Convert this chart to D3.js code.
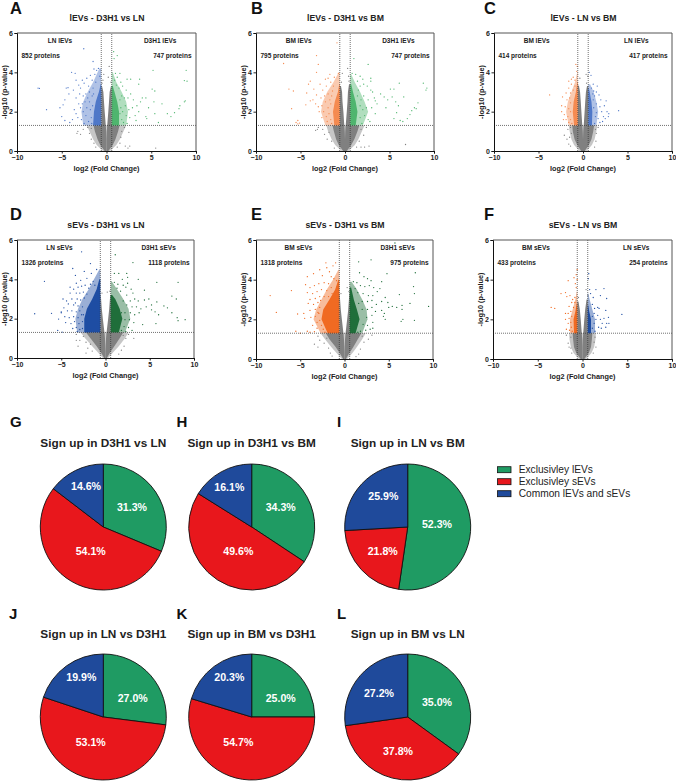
<!DOCTYPE html>
<html>
<head>
<meta charset="utf-8">
<script src="https://cdn.jsdelivr.net/npm/d3@7"></script>
<style>
html, body { margin:0; padding:0; background:#fff; }
text { font-family:"Liberation Sans", Arial, sans-serif; }
</style>
</head>
<body>
<div id="chart-area"></div>
<script>
//============================DATA============================
// Dense cores are envelopes: [p, outer x, inner x]. Halos are the thinner fringe round them.
// Sparse points are [x, p] estimates.
var xTicks = [-10, -5, 0, 5, 10];
var yTicks = [0, 2, 4, 6];

// panel A
var aGreyL = [[0,-0.2,0],[0.3,-0.7,0],[0.6,-1,0],[1,-1.3,-0.03],[1.3,-1.45,-0.08],[1.3,-0.585,-0.08],[2,-0.585,-0.2],[2.5,-0.585,-0.28],[3,-0.585,-0.35],[3.3,-0.585,-0.5]];
var aGreyR = [[0,0.2,0],[0.3,0.7,0],[0.6,1,0],[1,1.3,0.03],[1.3,1.45,0.08],[1.3,0.585,0.08],[2,0.585,0.2],[2.5,0.585,0.28],[3,0.585,0.35],[3.3,0.585,0.5]];
var aWingL = [[1.3,-1.5,-0.585],[2,-1.4,-0.585],[2.5,-1.2,-0.585],[3,-0.85,-0.585],[3.4,-0.65,-0.585]];
var aWingR = [[1.3,1.4,0.585],[2,1.4,0.585],[2.5,1.2,0.585],[3,0.9,0.585],[3.3,0.7,0.585]];
var aHaloL = [[1.3,-2.6,-0.585],[2,-2.8,-0.585],[2.5,-2.6,-0.585],[3,-2.1,-0.585],[3.5,-1.5,-0.585],[4.2,-0.8,-0.585]];
var aHaloR = [[1.3,2.2,0.585],[2,2.4,0.585],[2.5,2.2,0.585],[3,1.7,0.585],[3.5,1.1,0.585],[4,0.7,0.585]];
var aHaloGL = [[0,-0.4,0],[0.3,-1.1,0],[0.6,-1.5,0],[1,-1.9,0],[1.3,-2.2,0]];
var aHaloGR = [[0,0.4,0],[0.3,1.1,0],[0.6,1.5,0],[1,1.9,0],[1.3,2.2,0]];
var aPtsL = [[-2.54,5.2],[-1.5,4.55],[-1.4,4.17],[-3.9,4],[-3.5,3.95],[-7.65,3.2],[-7.5,3.18],[-6.7,2.1],[-5.2,2.2],[-4.85,2.35],[-4.65,2.6],[-4.5,3.2],[-4.3,3.22],[-5,1.75],[-4.65,1.55],[-4.1,1.45],[-3.4,3.6],[-3.1,3.35],[-2.9,3.2],[-2.7,3.6],[-2.5,3.45],[-2.2,3.7],[-2,3.3],[-1.8,3.85],[-1.6,3.6],[-1.3,3.9],[-1.1,4.1],[-0.9,4.2],[-0.75,3.8],[-1.2,3.5],[-1.5,3.2],[-1.9,3],[-2.3,2.9],[-2.6,2.8],[-3,2.9],[-3.4,2.7],[-3.1,2.4],[-3.6,2.1],[-3.4,1.9],[-3.2,1.7],[-2.9,2.2],[-2.7,2.4],[-2.4,2.5],[-2.2,2.2],[-2.6,2],[-2.3,1.8],[-2.8,1.6],[-2.1,2.7],[-1.9,2.5],[-1.8,2.1],[-1.7,1.7],[-2,1.5],[-1.6,2.8],[-1.45,2.9],[-1.55,2.3],[-1.65,1.4],[-4.2,2.9],[-3.7,3.1],[-3.8,1.6],[-2.5,1.4]];
var aPtsR = [[0.8,5.05],[1.2,4.85],[0.85,4.7],[1,3.95],[1.5,3.95],[1.2,3.75],[0.9,3.6],[2.3,3.65],[2.7,3.65],[3.7,3.65],[3.6,3.4],[5.2,4.1],[8.9,4.1],[8.7,3.58],[9,3.55],[5.1,3.15],[5.4,3.05],[4,2.7],[4.4,2.7],[3.8,2.5],[3.4,2.3],[3,2.6],[2.7,2.9],[2.2,3.1],[1.8,3.3],[1.6,3.5],[1.4,3.2],[1.1,3.35],[2.4,2.7],[2,2.7],[1.7,2.8],[1.5,2.6],[2.9,2.2],[2.5,2.1],[2.1,2.3],[1.8,2],[2.2,1.8],[1.7,1.6],[1.5,1.9],[2.6,1.7],[3.2,1.8],[3.3,1.55],[4.4,1.75],[4.5,1.65],[5.4,1.9],[5.8,1.45],[6.8,1.9],[7.2,1.75],[7.6,1.95],[8.1,2.15],[8.2,2.3],[8.7,2.5],[8.8,2.55],[6.2,2.4],[5.3,2.5],[1.9,1.45],[2.3,1.4],[1.6,2.2],[3.6,2],[4.7,2.2]];
var aPtsG = [[0.3,4.3],[-0.3,3.9],[0.2,3.75],[-0.4,3.6],[0.5,3.5],[-0.5,3.45],[-2.1,1.2],[-3.2,1],[-3.3,0.9],[-2.6,1.1],[-1.9,0.9],[-1.7,0.6],[2,1.2],[1.7,1],[1.6,0.7],[1.5,0.4],[-1.4,0.4],[-1.2,0.2],[2.1,0.25],[2.6,0.25],[2.4,0.15],[5.5,0.15],[1.2,0.2],[-2.9,0.85],[2.5,0.95],[-1.7,1.15]];

// panel B
var bGreyL = [[0,-0.2,0],[0.3,-0.7,0],[0.6,-1,0],[1,-1.25,-0.03],[1.3,-1.4,-0.08],[1.3,-0.585,-0.08],[2,-0.585,-0.18],[2.5,-0.585,-0.28],[3,-0.585,-0.33],[3.3,-0.585,-0.45]];
var bGreyR = [[0,0.2,0],[0.3,0.7,0],[0.6,1.05,0],[1,1.4,0.03],[1.3,1.6,0.08],[1.3,0.585,0.08],[2,0.585,0.2],[2.5,0.585,0.28],[3,0.585,0.33],[3.4,0.585,0.45]];
var bWingL = [[1.3,-1.2,-0.585],[2,-1.35,-0.585],[2.5,-1.15,-0.585],[3,-0.8,-0.585],[3.4,-0.65,-0.585]];
var bWingR = [[1.3,1.2,0.585],[2,1.4,0.585],[2.5,1.2,0.585],[3,0.9,0.585],[3.4,0.7,0.585]];
var bHaloL = [[1.3,-2.2,-0.585],[2,-2.7,-0.585],[2.5,-2.5,-0.585],[3,-2,-0.585],[3.5,-1.3,-0.585],[4,-0.7,-0.585]];
var bHaloR = [[1.3,2,0.585],[2,2.6,0.585],[2.5,2.2,0.585],[3,1.7,0.585],[3.5,1.1,0.585],[3.9,0.7,0.585]];
var bHaloGL = [[0,-0.4,0],[0.3,-1.1,0],[0.6,-1.5,0],[1,-1.9,0],[1.3,-2.1,0]];
var bHaloGR = [[0,0.4,0],[0.3,1.1,0],[0.6,1.5,0],[1,1.9,0],[1.3,2.2,0]];
var bPtsL = [[-0.9,5.5],[-3.2,4.85],[-6.9,4.45],[-3,4.4],[-3.2,4],[-1.7,3.9],[-0.75,3.95],[-1.2,3.75],[-1.9,3.7],[-2.2,3.65],[-3.9,3.55],[-4.1,3.4],[-6.3,3.15],[-5.8,3.05],[-4.3,2.95],[-3.5,3.15],[-2.8,3.4],[-2.5,3.1],[-2.1,3.3],[-1.6,3.5],[-1.3,3.3],[-3.2,2.85],[-2.7,2.7],[-2.3,2.8],[-1.9,2.9],[-1.5,2.8],[-3.6,2.6],[-3.9,2.55],[-3.3,2.4],[-3,2.25],[-2.6,2.3],[-2.2,2.5],[-1.9,2.2],[-1.6,2.4],[-6,2.15],[-2.4,2],[-2.1,1.75],[-1.8,1.9],[-1.6,1.6],[-2,1.5],[-1.5,1.4],[-5.3,1.55],[-5.5,1.45],[-5.1,1.42],[-5.3,1.38],[-2.6,1.7],[-1.4,3.05],[-1.7,2.6],[-2.9,2],[-4.4,2.35]];
var bPtsR = [[1,4.7],[2.6,4.4],[0.8,3.95],[1.2,3.9],[1.7,3.8],[2,3.65],[2.9,3.7],[2.9,3.55],[1.4,3.55],[1.7,3.3],[2.1,3.4],[2.5,3.3],[2.9,3.1],[6.1,3.45],[8.8,3.45],[9.2,3.2],[9.1,3.1],[5.1,3.15],[5.5,3.15],[3.1,3],[3.3,2.7],[3.4,2.55],[3.6,2.4],[4,2.9],[4.4,2.75],[4.8,2.6],[5.3,2.75],[5.7,2.5],[6,2.3],[4.6,2.2],[3,2.2],[2.6,2.6],[2.1,2.8],[1.8,2.6],[2.4,2.2],[2,2.1],[1.7,2.3],[2.2,1.8],[1.7,1.7],[2.6,1.6],[1.9,1.4],[1.5,3.1],[5.5,1.65],[6.2,1.55],[6.5,1.5],[7,1.65],[7.3,1.85],[7.5,2.05],[7.8,2.2],[8,2.15],[8.2,2.45],[5.8,1.95],[6.6,2.75],[2.8,1.5],[1.4,2.8],[3.4,1.9]];
var bPtsG = [[0.3,4.2],[-0.3,3.95],[0.4,3.8],[-0.4,3.5],[0.45,3.55],[6.8,0.33],[2.7,0.25],[2.2,0.2],[1.8,0.2],[1.6,0.5],[2.1,0.8],[-2,0.6],[-2.3,0.85],[-1.8,0.95],[-3.1,1.1],[-3.3,1.05],[-2.5,1.1],[-3,1.2],[-1.5,0.5],[1.8,1.1],[2.4,1.2],[-1.2,0.15],[1.3,0.2]];

// panel C
var cGreyL = [[0,-0.2,0],[0.3,-0.65,0],[0.6,-0.95,0],[1,-1.15,-0.03],[1.3,-1.2,-0.08],[1.3,-0.585,-0.08],[2,-0.585,-0.18],[2.5,-0.585,-0.25],[3,-0.585,-0.33],[3.3,-0.585,-0.45]];
var cGreyR = [[0,0.2,0],[0.3,0.65,0],[0.6,0.95,0],[1,1.15,0.03],[1.3,1.25,0.08],[1.3,0.585,0.08],[2,0.585,0.18],[2.5,0.585,0.25],[3,0.585,0.33],[3.3,0.585,0.45]];
var cWingL = [[1.3,-1,-0.585],[2,-1.15,-0.585],[2.5,-1.05,-0.585],[3,-0.8,-0.585],[3.5,-0.65,-0.585]];
var cWingR = [[1.3,1,0.585],[2,1.05,0.585],[2.5,0.95,0.585],[3,0.75,0.585],[3.2,0.65,0.585]];
var cHaloL = [[1.3,-1.6,-0.585],[2,-1.9,-0.585],[2.5,-1.7,-0.585],[3,-1.3,-0.585],[3.5,-0.9,-0.585],[4,-0.65,-0.585]];
var cHaloR = [[1.3,1.5,0.585],[2,1.7,0.585],[2.5,1.5,0.585],[3,1.2,0.585],[3.4,0.8,0.585]];
var cHaloGL = [[0,-0.4,0],[0.3,-1,0],[0.6,-1.3,0],[1,-1.5,0],[1.3,-1.6,0]];
var cHaloGR = [[0,0.4,0],[0.3,1,0],[0.6,1.3,0],[1,1.5,0],[1.3,1.6,0]];
var cPtsL = [[-0.8,4.4],[-0.65,4.3],[-0.7,4.05],[-1.1,3.75],[-1.3,3.65],[-0.9,3.6],[-1.6,3.55],[-1.3,3.4],[-0.9,3.3],[-1.6,3.2],[-1.1,3.1],[-1.4,2.95],[-1.9,2.95],[-3.75,2.85],[-1.5,2.7],[-1.8,2.6],[-2.3,2.75],[-1.4,2.45],[-2.4,2.3],[-2,2.25],[-1.6,2.15],[-1.4,2],[-2.4,2],[-2.1,1.85],[-1.7,1.75],[-1.9,1.6],[-1.4,1.6],[-1.6,1.45],[-1.25,1.4],[-2.2,1.6]];
var cPtsR = [[0.7,4],[0.9,3.85],[1.15,3.4],[1.6,3.3],[0.95,3.2],[1.2,3.05],[1.5,3],[1.3,2.8],[1.8,2.85],[1.15,2.6],[2,2.6],[1.5,2.4],[1.9,2.25],[1.2,2.2],[2.1,2],[2.4,2.3],[1.5,1.95],[2.7,2],[2.9,1.9],[2.85,1.75],[2.5,1.65],[2.2,1.5],[1.7,1.65],[1.4,1.75],[1.9,1.45],[4,2.05],[1.3,1.4],[2.6,2.55],[2.3,1.75],[1.1,2.9]];
var cPtsG = [[0.35,3.9],[0.55,3.8],[-0.35,3.7],[0.4,3.45],[-0.5,3.3],[-2.1,0.8],[-1.7,1.1],[-1.5,0.7],[-1.6,0.35],[-1.4,0.25],[-1.3,0.9],[1.5,0.9],[1.45,0.5],[1.3,0.2],[1.4,1.1],[1.7,1.2],[-1.8,0.6],[-1.4,1.2]];

// panel D
var dGreyL = [[0,-0.15,0],[0.3,-0.55,0],[0.6,-1,-0.02],[1,-1.7,-0.06],[1.3,-2.2,-0.12],[1.3,-0.585,-0.12],[2,-0.585,-0.3],[2.5,-0.585,-0.42],[3,-0.585,-0.5],[3.2,-0.585,-0.55]];
var dGreyR = [[0,0.15,0],[0.3,0.55,0],[0.6,1,0.02],[1,1.6,0.06],[1.3,2,0.12],[1.3,0.585,0.12],[2,0.585,0.3],[2.5,0.585,0.42],[3,0.585,0.5],[3.2,0.585,0.55]];
var dWingL = [[1.3,-2.4,-0.585],[2,-2.4,-0.585],[2.5,-2.1,-0.585],[3,-1.5,-0.585],[3.5,-1,-0.585],[4,-0.7,-0.585]];
var dWingR = [[1.3,1.5,0.585],[2,1.9,0.585],[2.5,1.6,0.585],[3,1.1,0.585],[3.2,0.75,0.585]];
var dHaloL = [[1.3,-3.2,-0.585],[2,-3.4,-0.585],[2.5,-3.1,-0.585],[3,-2.6,-0.585],[3.5,-1.9,-0.585],[4,-1.3,-0.585],[4.5,-0.7,-0.585]];
var dHaloR = [[1.3,2.2,0.585],[2,2.8,0.585],[2.5,2.6,0.585],[3,2,0.585],[3.5,1.3,0.585],[3.9,0.7,0.585]];
var dHaloGL = [[0,-0.3,0],[0.3,-0.9,0],[0.6,-1.5,0],[1,-2.3,0],[1.3,-2.8,0]];
var dHaloGR = [[0,0.3,0],[0.3,0.9,0],[0.6,1.5,0],[1,2.2,0],[1.3,2.6,0]];
var dPtsL = [[-2.7,5.4],[-1.7,4.8],[-3.7,4.55],[-2.4,4.4],[-3.4,4.2],[-1.6,4.3],[-1,4.5],[-6.9,3.9],[-2.1,4.05],[-2.8,3.95],[-3.3,3.8],[-1.4,3.9],[-4,3.6],[-3.6,3.5],[-3.1,3.6],[-2.7,3.65],[-2.3,3.7],[-1.9,3.55],[-4,3.3],[-3.3,3.3],[-2.9,3.3],[-2.5,3.35],[-4.4,2.9],[-3.8,3],[-3.2,3],[-2.8,2.95],[-2.4,3.05],[-4.7,2.55],[-4.2,2.75],[-3.6,2.7],[-3.1,2.65],[-5,2.35],[-4.3,2.4],[-3.8,2.4],[-3.3,2.35],[-2.9,2.4],[-8,2.25],[-6.1,2.27],[-5,2.3],[-5.3,1.98],[-4.6,2.1],[-4.1,2.05],[-3.6,2.1],[-3.1,2.05],[-2.7,2.2],[-4.5,1.8],[-3.9,1.75],[-3.5,1.85],[-3,1.75],[-2.6,1.85],[-3.7,1.5],[-3.3,1.55],[-2.9,1.45],[-2.6,1.5],[-5.4,1.4],[-4.9,1.32],[-3.2,1.35],[-1.7,3.75],[-1.2,3.7],[-2.1,3.25],[-2.6,2.6],[-2.5,2.2],[-3.4,2.8],[-4.8,3]];
var dPtsR = [[1.1,5.25],[3.1,4.85],[1,4.3],[1.5,4.3],[2.4,4.3],[2.5,4.1],[3.7,4],[1.9,4],[1,3.85],[1.4,3.75],[2,3.7],[2.3,3.6],[2.5,3.8],[2.9,3.5],[5.8,3.85],[8.2,3.85],[4.4,3.45],[1.7,3.4],[2.4,3.2],[3.1,3.3],[3.3,3],[2.8,2.9],[3.7,2.9],[4.4,2.95],[4.9,3],[5.8,2.85],[7.5,3.15],[8,3],[2,2.9],[2.4,2.7],[3,2.6],[3.5,2.6],[4,2.5],[4.6,2.6],[5.2,2.7],[6.6,2.65],[7,2.55],[7.5,2.3],[8.1,2.05],[9,1.95],[8.2,1.9],[2.2,2.3],[2.8,2.3],[3.3,2.2],[3.8,2.3],[5.6,2.35],[6,2.2],[5.7,1.75],[5.2,2.45],[2.2,1.95],[2.7,1.95],[3.2,1.8],[4.2,1.7],[2.1,1.6],[2.6,1.55],[3,1.4],[1.8,1.4],[2.3,1.35],[1.3,3.55],[1.8,2.3]];
var dPtsG = [[0.2,3.35],[0.5,3.4],[-0.4,3.3],[-3.3,0.9],[-2.9,0.9],[-3.1,0.6],[-2.2,0.25],[-2.5,1.1],[-2.2,0.8],[-2,0.5],[-1.5,0.35],[2,1.15],[2.3,1],[2.1,0.6],[1.8,0.4],[1.5,0.2],[-3.3,1.2],[3.2,1],[-1.7,0.7],[2.6,1.2]];

// panel E
var eGreyL = [[0,-0.15,0],[0.3,-0.55,0],[0.6,-1,-0.02],[1,-1.7,-0.06],[1.3,-2.1,-0.12],[1.3,-0.585,-0.12],[2,-0.585,-0.3],[2.5,-0.585,-0.42],[3,-0.585,-0.5],[3.3,-0.585,-0.55]];
var eGreyR = [[0,0.15,0],[0.3,0.55,0],[0.6,1,0.02],[1,1.5,0.06],[1.3,1.9,0.12],[1.3,0.585,0.12],[2,0.585,0.3],[2.5,0.585,0.42],[3,0.585,0.5],[3.3,0.585,0.55]];
var eWingL = [[1.3,-1.9,-0.585],[2,-2.6,-0.585],[2.5,-2.4,-0.585],[3,-1.7,-0.585],[3.5,-1.05,-0.585],[4,-0.7,-0.585]];
var eWingR = [[1.3,1.25,0.585],[2,1.7,0.585],[2.5,1.4,0.585],[3,1.05,0.585],[3.6,0.75,0.585]];
var eHaloL = [[1.3,-2.7,-0.585],[2,-3.5,-0.585],[2.5,-3.2,-0.585],[3,-2.6,-0.585],[3.5,-2,-0.585],[4,-1.3,-0.585],[4.5,-0.7,-0.585]];
var eHaloR = [[1.3,2,0.585],[2,2.6,0.585],[2.5,2.5,0.585],[3,2,0.585],[3.5,1.4,0.585],[3.9,0.8,0.585]];
var eHaloGL = [[0,-0.3,0],[0.3,-0.9,0],[0.6,-1.5,0],[1,-2.2,0],[1.3,-2.7,0]];
var eHaloGR = [[0,0.3,0],[0.3,0.9,0],[0.6,1.4,0],[1,2,0],[1.3,2.4,0]];
var ePtsL = [[-2.1,4.85],[-1,4.85],[-1.3,4.7],[-2,4.6],[-2.8,4.5],[-3.5,4.3],[-1.7,4.4],[-4.2,4.15],[-2.5,4.2],[-1.5,4.15],[-1.2,4.05],[-0.9,3.95],[-6,3.45],[-8.4,3.2],[-4.4,3.75],[-3.9,3.6],[-3.4,3.7],[-2.9,3.8],[-2.3,3.85],[-1.8,3.8],[-4.2,3.35],[-3.6,3.3],[-3.1,3.4],[-2.6,3.5],[-2,3.45],[-1.5,3.6],[-3.9,3],[-3.3,3.05],[-2.8,3.15],[-4.1,2.8],[-3.5,2.75],[-3,2.85],[-2.8,2.6],[-3.3,2.5],[-3.9,2.45],[-7.7,2.35],[-5.3,2.27],[-4.6,2.3],[-4.5,2.05],[-3.8,2.1],[-3.3,2.15],[-2.9,2.3],[-3.1,1.85],[-2.8,1.95],[-3.6,1.7],[-3.1,1.55],[-2.6,1.7],[-2.4,1.5],[-5.5,1.4],[-5,1.3],[-4.2,1.4],[-3.9,1.35],[-3.4,1.38],[-2.2,1.35],[-1.4,3.3],[-2.3,3.15],[-2.7,2.95],[-3,2.35],[-1.8,3.15]];
var ePtsR = [[5.7,5.85],[3,5],[1.6,4.9],[4.8,4.3],[1.7,4.35],[8,4.35],[2.2,4.15],[2.6,4.05],[3,3.95],[1.4,3.85],[1,3.9],[1.8,3.7],[2.3,3.65],[2.8,3.7],[3.3,3.6],[4.2,3.9],[7.8,3.65],[4,3.55],[3.7,3.4],[1.2,3.55],[1.5,3.35],[2.1,3.3],[2.7,3.2],[3.2,3.2],[6.2,3.25],[7.9,3.3],[3.1,2.95],[2.6,2.9],[2,2.9],[1.6,2.8],[4.6,3.1],[4.2,2.9],[4.9,2.85],[5,2.6],[5.4,2.65],[5.9,2.6],[6.5,2.7],[7.4,2.8],[9.5,2.65],[3.6,2.75],[3.1,2.6],[2.6,2.5],[2,2.5],[4.2,2.45],[4.5,2.3],[6.5,2.5],[3.5,2.4],[3.1,2.2],[2.5,2.1],[4.4,2.15],[4.6,2],[6.6,2],[6.4,1.9],[7.9,1.95],[3.2,1.85],[2.6,1.7],[2.1,1.75],[3.2,1.55],[2.4,1.45],[1.8,1.4],[1.5,1.35],[2.9,1.5]];
var ePtsG = [[0.3,3.6],[0.5,3.4],[-0.4,3.3],[-3.4,0.75],[-2.8,0.95],[-3,0.6],[-2.3,0.8],[-2,1.05],[-1.8,0.55],[-1.6,0.3],[2,1.15],[2.2,0.85],[1.8,0.5],[1.6,0.25],[2.7,1],[-1.4,0.15],[1.3,0.12],[3.1,1.2],[-3,1.15]];

// panel F
var fGreyL = [[0,-0.2,0],[0.3,-0.7,0],[0.6,-0.95,0],[1,-1.05,-0.03],[1.3,-1.1,-0.08],[1.3,-0.585,-0.08],[2,-0.585,-0.2],[2.5,-0.585,-0.3],[2.9,-0.585,-0.45]];
var fGreyR = [[0,0.2,0],[0.3,0.7,0],[0.6,0.95,0],[1,1.05,0.03],[1.3,1.1,0.08],[1.3,0.585,0.08],[2,0.585,0.2],[2.5,0.585,0.3],[3,0.585,0.45]];
var fWingL = [[1.3,-0.95,-0.585],[2,-1,-0.585],[2.4,-0.8,-0.585],[2.8,-0.65,-0.585]];
var fWingR = [[1.3,0.95,0.585],[2,0.95,0.585],[2.4,0.75,0.585],[2.7,0.65,0.585]];
var fHaloL = [[1.3,-1.4,-0.585],[2,-1.4,-0.585],[2.5,-1.1,-0.585],[3,-0.8,-0.585],[3.4,-0.65,-0.585]];
var fHaloR = [[1.3,1.4,0.585],[2,1.4,0.585],[2.5,1.1,0.585],[3,0.8,0.585],[3.3,0.65,0.585]];
var fHaloGL = [[0,-0.4,0],[0.3,-1,0],[0.6,-1.3,0],[1,-1.45,0],[1.3,-1.5,0]];
var fHaloGR = [[0,0.4,0],[0.3,1,0],[0.6,1.3,0],[1,1.45,0],[1.3,1.5,0]];
var fPtsL = [[-0.6,4.5],[-0.7,4.25],[-0.6,4],[-0.95,4.1],[-1.6,3.95],[-0.8,3.8],[-0.7,3.6],[-1.9,3.35],[-2.4,3.3],[-1.4,3.2],[-1.75,3.15],[-0.85,3.1],[-1.1,3],[-1.2,2.85],[-0.85,2.85],[-3.5,2.6],[-3.1,2.55],[-1.5,2.65],[-1,2.6],[-1.3,2.4],[-1.6,2.3],[-1.9,2.3],[-1.2,2.15],[-1.5,2.05],[-1.9,2],[-1.3,1.85],[-1.6,1.8],[-1.25,1.6],[-1.8,1.5],[-1.45,1.45],[-1.15,1.4]];
var fPtsR = [[0.7,4.3],[0.65,4.05],[0.8,3.5],[2.4,3.55],[1.5,3.5],[1.2,3.1],[0.9,3.3],[2,3.2],[2.7,3.05],[1.1,2.75],[1.35,2.55],[1.7,2.6],[1.85,2.55],[1.3,2.3],[1.7,2.2],[1.1,2.15],[2.6,2.45],[1.5,2],[2,2],[2.4,2.05],[2.9,2.1],[4.4,2.25],[1.3,1.8],[2.2,1.8],[2.7,1.8],[2.95,1.8],[1.8,1.6],[2.6,1.6],[1.1,1.55],[1.4,1.4],[2.1,1.55]];
var fPtsG = [[0.4,3.5],[0.6,3.2],[-0.45,3.1],[-1.6,0.8],[-1.5,0.6],[-1.3,1.1],[-1.8,1.2],[-1.2,0.3],[1.3,0.85],[1.2,0.3],[1.5,0.6],[1.4,1.1],[-1.3,0.55]];

// pies: exclusive lEVs, exclusive sEVs, common
var pieG = [31.3, 54.1, 14.6];
var pieH = [34.3, 49.6, 16.1];
var pieI = [52.3, 21.8, 25.9];
var pieJ = [27.0, 53.1, 19.9];
var pieK = [25.0, 54.7, 20.3];
var pieL = [35.0, 37.8, 27.2];
var legendLabels = ["Exclusivley lEVs", "Exclusivley sEVs", "Common lEVs and sEVs"];

//============================LAYOUT============================
var blueL = "#4f78c8", greenL = "#4fb56e", orangeL = "#f58a50";
var blueD = "#1e4da3", greenD = "#1f6e3a", orangeD = "#f06a22";
var grey = "#808080";

var volcanoes = [
    {letter:"A", lx:10, ly:14, title:"lEVs - D3H1 vs LN", x0:17, x1:196, y0:151, y1:33, left:"LN lEVs", nL:"852 proteins", right:"D3H1 lEVs", nR:"747 proteins", cL:blueL, cR:greenL, gL:aGreyL, gR:aGreyR, wL:aWingL, wR:aWingR, hL:aHaloL, hR:aHaloR, hgL:aHaloGL, hgR:aHaloGR, pL:aPtsL, pR:aPtsR, pG:aPtsG},
    {letter:"B", lx:251, ly:14, title:"lEVs - D3H1 vs BM", x0:256, x1:434, y0:151, y1:33, left:"BM lEVs", nL:"795 proteins", right:"D3H1 lEVs", nR:"747 proteins", cL:orangeL, cR:greenL, gL:bGreyL, gR:bGreyR, wL:bWingL, wR:bWingR, hL:bHaloL, hR:bHaloR, hgL:bHaloGL, hgR:bHaloGR, pL:bPtsL, pR:bPtsR, pG:bPtsG},
    {letter:"C", lx:484, ly:14, title:"lEVs - LN vs BM", x0:494, x1:672, y0:151, y1:33, left:"BM lEVs", nL:"414 proteins", right:"LN lEVs", nR:"417 proteins", cL:orangeL, cR:blueL, gL:cGreyL, gR:cGreyR, wL:cWingL, wR:cWingR, hL:cHaloL, hR:cHaloR, hgL:cHaloGL, hgR:cHaloGR, pL:cPtsL, pR:cPtsR, pG:cPtsG},
    {letter:"D", lx:10, ly:220, title:"sEVs - D3H1 vs LN", x0:17, x1:194, y0:358, y1:240, left:"LN sEVs", nL:"1326 proteins", right:"D3H1 sEVs", nR:"1118 proteins", cL:blueD, cR:greenD, gL:dGreyL, gR:dGreyR, wL:dWingL, wR:dWingR, hL:dHaloL, hR:dHaloR, hgL:dHaloGL, hgR:dHaloGR, pL:dPtsL, pR:dPtsR, pG:dPtsG},
    {letter:"E", lx:251, ly:220, title:"sEVs - D3H1 vs BM", x0:256, x1:433, y0:359, y1:240, left:"BM sEVs", nL:"1318 proteins", right:"D3H1 sEVs", nR:"975 proteins", cL:orangeD, cR:greenD, gL:eGreyL, gR:eGreyR, wL:eWingL, wR:eWingR, hL:eHaloL, hR:eHaloR, hgL:eHaloGL, hgR:eHaloGR, pL:ePtsL, pR:ePtsR, pG:ePtsG},
    {letter:"F", lx:484, ly:220, title:"sEVs - LN vs BM", x0:493, x1:672, y0:359, y1:240, left:"BM sEVs", nL:"433 proteins", right:"LN sEVs", nR:"254 proteins", cL:orangeD, cR:blueD, gL:fGreyL, gR:fGreyR, wL:fWingL, wR:fWingR, hL:fHaloL, hR:fHaloR, hgL:fHaloGL, hgR:fHaloGR, pL:fPtsL, pR:fPtsR, pG:fPtsG}
];

var pies = [
    {letter:"G", lx:10, ly:427, title:"Sign up in D3H1 vs LN", values:pieG, cx:103.3, cy:527, ty:447, off:[[28.7,-20],[-12.6,23.7],[-17.3,-41]]},
    {letter:"H", lx:176.5, ly:427, title:"Sign up in D3H1 vs BM", values:pieH, cx:251.7, cy:527, ty:447, off:[[29,-19.7],[-13.4,24.3],[-22.4,-40.3]]},
    {letter:"I", lx:337, ly:427, title:"Sign up in LN vs BM", values:pieI, cx:407.7, cy:527, ty:447, off:[[29.3,-3],[-25,24.3],[-24.4,-31.3]]},
    {letter:"J", lx:9, ly:619, title:"Sign up in LN vs D3H1", values:pieJ, cx:103.3, cy:717, ty:638, off:[[29.4,-19],[-12.6,25],[-22,-39.7]]},
    {letter:"K", lx:176.5, ly:619, title:"Sign up in BM vs D3H1", values:pieK, cx:251.7, cy:717, ty:638, off:[[29,-19],[-13.4,25],[-22.4,-40]]},
    {letter:"L", lx:337, ly:619, title:"Sign up in BM vs LN", values:pieL, cx:407.7, cy:717, ty:638, off:[[29.3,-15.3],[-9.7,34],[-28.7,-24]]}
];
var pieColors = ["#1f9b63", "#e8171c", "#1f4a9b"];
var pieRadius = 63;

var svg = d3.select("#chart-area").append("svg")
    .attr("width", 676)
    .attr("height", 782)
    .style("display", "block");

function letter(txt, x, y, size) {
    svg.append("text").attr("x", x).attr("y", y)
        .attr("font-size", size).attr("font-weight", "bold").attr("fill", "#111").text(txt);
}

//============================VOLCANOES============================
volcanoes.forEach(function(p) {
    var x = d3.scaleLinear().domain([-10, 10]).range([p.x0, p.x1]);
    var y = d3.scaleLinear().domain([0, 6]).range([p.y0, p.y1]);
    var xMid = (p.x0 + p.x1) / 2, yMid = (p.y0 + p.y1) / 2;
    var g = svg.append("g");

    letter(p.letter, p.lx, p.ly, 16.5);

    g.append("text").attr("x", xMid + 0.5).attr("y", p.y1 - 12)
        .attr("text-anchor", "middle").attr("font-size", 8.7).attr("font-weight", "bold").attr("fill", "#222").text(p.title);

    var band = d3.area().x0(function(d){ return x(d[1]); }).x1(function(d){ return x(d[2]); }).y(function(d){ return y(d[0]); });
    function shape(w, color, opacity) {
        g.append("path").attr("d", band(w)).attr("fill", color).attr("fill-opacity", opacity);
    }
    function dots(pts, color) {
        g.selectAll(null).data(pts).enter().append("circle")
            .attr("cx", function(d){ return x(d[0]); }).attr("cy", function(d){ return y(d[1]); })
            .attr("r", 0.65).attr("fill", color);
    }

    shape(p.hgL, grey, 0.45);
    shape(p.hgR, grey, 0.45);
    shape(p.gL, grey, 1);
    shape(p.gR, grey, 1);
    dots(p.pG, grey);

    shape(p.hL, p.cL, 0.45);
    shape(p.hR, p.cR, 0.45);
    shape(p.wL, p.cL, 1);
    shape(p.wR, p.cR, 1);
    dots(p.pL, p.cL);
    dots(p.pR, p.cR);

    // thresholds: p = 0.05 and 1.5 fold change
    g.append("line").attr("x1", x(-10)).attr("x2", x(10)).attr("y1", y(1.3)).attr("y2", y(1.3))
        .attr("stroke", "#333").attr("stroke-width", 0.7).attr("stroke-dasharray", "1 1");
    [-0.585, 0.585].forEach(function(v) {
        g.append("line").attr("x1", x(v)).attr("x2", x(v)).attr("y1", y(0)).attr("y2", y(6))
            .attr("stroke", "#333").attr("stroke-width", 0.7).attr("stroke-dasharray", "1 1");
    });

    // top and right frame
    g.append("path").attr("d", "M" + x(-10) + "," + y(6) + "H" + x(10) + "V" + y(0))
        .attr("fill", "none").attr("stroke", "#555").attr("stroke-width", 1);

    var xAxis = g.append("g").attr("transform", "translate(0," + p.y0 + ")")
        .call(d3.axisBottom(x).tickValues(xTicks).tickSize(2.5).tickPadding(1.5).tickFormat(d3.format("d")));
    var yAxis = g.append("g").attr("transform", "translate(" + p.x0 + ",0)")
        .call(d3.axisLeft(y).tickValues(yTicks).tickSize(2.5).tickPadding(1.5).tickFormat(d3.format("d")));
    [xAxis, yAxis].forEach(function(a) {
        a.selectAll("text").attr("font-size", 7).attr("font-weight", "bold").attr("fill", "#222")
            .style("font-family", '"Liberation Sans", Arial, sans-serif');
        a.selectAll("line").attr("stroke", "#111").attr("stroke-width", 0.9);
        a.select(".domain").attr("stroke", "#111").attr("stroke-width", 1);
    });

    g.append("text").attr("x", xMid).attr("y", p.y0 + 20)
        .attr("text-anchor", "middle").attr("font-size", 7.3).attr("font-weight", "bold").attr("fill", "#222").text("log2 (Fold Change)");
    g.append("text").attr("transform", "translate(" + (p.x0 - 10.5) + "," + yMid + ") rotate(-90)")
        .attr("text-anchor", "middle").attr("font-size", 7.3).attr("font-weight", "bold").attr("fill", "#222").text("-log10 (p-value)");

    g.append("text").attr("x", x(-5.2)).attr("y", p.y1 + 9.5)
        .attr("text-anchor", "middle").attr("font-size", 6.5).attr("font-weight", "bold").attr("fill", "#222").text(p.left);
    g.append("text").attr("x", x(-9.5)).attr("y", p.y1 + 24.5)
        .attr("font-size", 6.5).attr("font-weight", "bold").attr("fill", "#222").text(p.nL);
    g.append("text").attr("x", x(6)).attr("y", p.y1 + 9.5)
        .attr("text-anchor", "middle").attr("font-size", 6.5).attr("font-weight", "bold").attr("fill", "#222").text(p.right);
    g.append("text").attr("x", x(9.5)).attr("y", p.y1 + 24.5).attr("text-anchor", "end")
        .attr("font-size", 6.5).attr("font-weight", "bold").attr("fill", "#222").text(p.nR);
});

//============================PIES============================
var pieLayout = d3.pie().sort(null);
var arc = d3.arc().innerRadius(0).outerRadius(pieRadius);

pies.forEach(function(p) {
    letter(p.letter, p.lx, p.ly, 15);

    svg.append("text").attr("x", p.cx).attr("y", p.ty).attr("text-anchor", "middle")
        .attr("font-size", 11.8).attr("font-weight", "bold").attr("fill", "#222").text(p.title);

    var g = svg.append("g").attr("transform", "translate(" + p.cx + "," + p.cy + ")");
    g.selectAll("path").data(pieLayout(p.values)).enter().append("path")
        .attr("d", arc)
        .attr("fill", function(d, i){ return pieColors[i]; })
        .attr("stroke", "#111").attr("stroke-width", 0.9);

    g.selectAll("text").data(p.values).enter().append("text")
        .attr("x", function(d, i){ return p.off[i][0]; })
        .attr("y", function(d, i){ return p.off[i][1]; })
        .attr("dy", "0.36em").attr("text-anchor", "middle")
        .attr("font-size", 10.6).attr("font-weight", "bold").attr("fill", "#fff")
        .text(function(d){ return d.toFixed(1) + "%"; });
});

//============================LEGEND============================
var legend = svg.append("g").attr("transform", "translate(497.5,469.7)");
legendLabels.forEach(function(label, i) {
    legend.append("rect").attr("x", 0).attr("y", i * 12 - 3).attr("width", 13.5).attr("height", 6)
        .attr("fill", pieColors[i]).attr("stroke", "#111").attr("stroke-width", 0.8);
    legend.append("text").attr("x", 21.2).attr("y", i * 12).attr("dy", "0.36em")
        .attr("font-size", 10.2).attr("fill", "#222").text(label);
});
</script>
</body>
</html>
